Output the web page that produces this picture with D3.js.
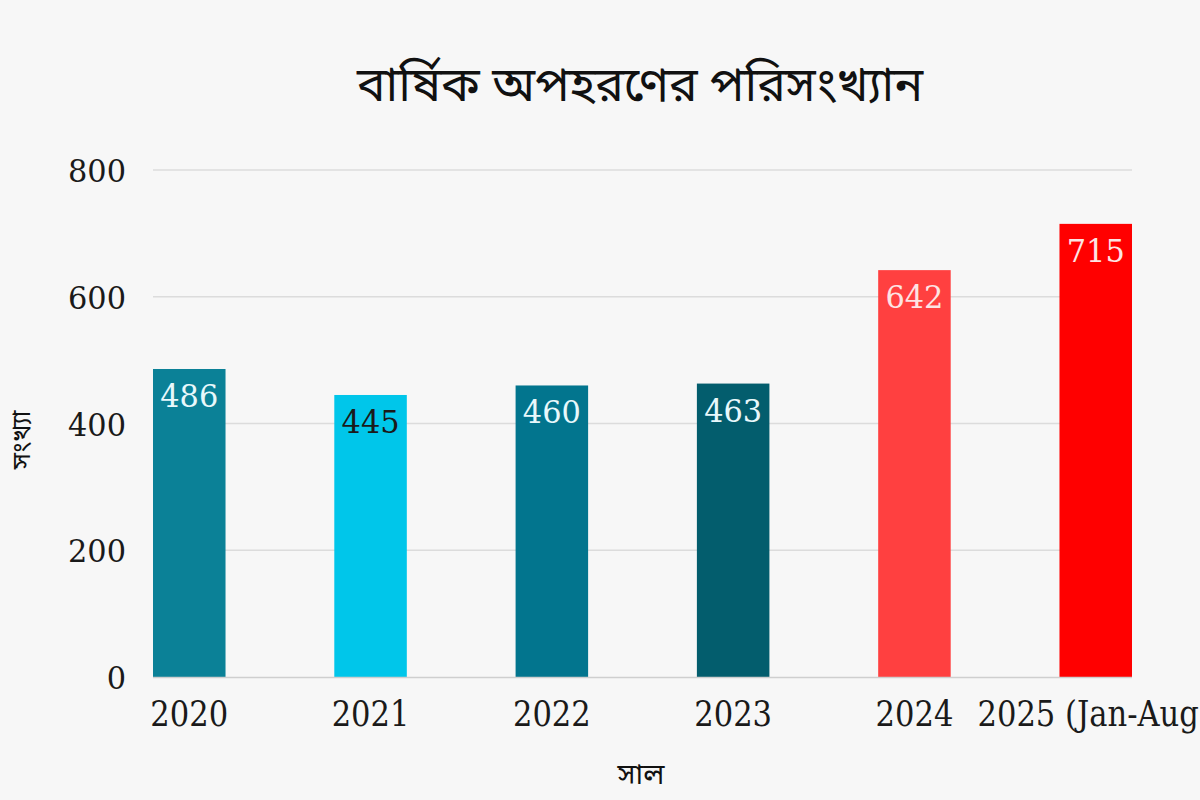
<!DOCTYPE html>
<html><head><meta charset="utf-8">
<script src="https://cdn.jsdelivr.net/npm/d3@7"></script>
<style>
html,body{margin:0;padding:0;background:#f7f7f7;}
svg{display:block;}
</style></head>
<body>
<svg id="chart" width="1200" height="800"></svg>
<script>
const categories = ["2020","2021","2022","2023","2024","2025 (Jan-Aug)"];
const values = [486, 445, 460, 463, 642, 715];
const barColors = ["#0b8197","#00c6ea","#02758e","#035d6d","#ff4040","#ff0000"];
const labelColors = ["#e8f8fb","#1a1a1a","#e8f8fb","#e8f8fb","#fde3e3","#fde3e3"];
const yTicks = [0, 200, 400, 600, 800];
const titleText = "বার্ষিক অপহরণের পরিসংখ্যান";
const yTitle = "সংখ্যা";
const xTitle = "সাল";

const svg = d3.select("#chart");
const serif = "'DejaVu Serif', 'Noto Serif', serif";
const bengali = "'Noto Sans Bengali','Noto Serif Bengali','Lohit Bengali','Noto Sans', sans-serif";

const x = d3.scaleBand().domain(categories).range([153, 1132]).paddingInner(0.6).paddingOuter(0);
const y = d3.scaleLinear().domain([0, 800]).range([677, 170]);

svg.append("rect").attr("width",1200).attr("height",800).attr("fill","#f7f7f7");

// gridlines
svg.append("g").selectAll("line").data(yTicks.filter(d=>d>0)).join("line")
  .attr("x1",153).attr("x2",1132).attr("y1",d=>y(d)).attr("y2",d=>y(d))
  .attr("stroke","#dcdcdc").attr("stroke-width",1.5);

// y axis labels
const yAxis = d3.axisLeft(y).tickValues(yTicks).tickSize(0).tickPadding(0).tickFormat(d3.format("d"));
const yg = svg.append("g").attr("transform","translate(126,0)").call(yAxis);
yg.select(".domain").remove();
yg.selectAll("text").attr("font-family",serif).attr("font-size",32).attr("fill","#1a1a1a")
  .attr("transform","scale(0.95,1)").attr("dy","0.36em");

// bars
svg.append("g").selectAll("rect").data(values).join("rect")
  .attr("x",(d,i)=>x(categories[i])).attr("width",x.bandwidth())
  .attr("y",d=>y(d)).attr("height",d=>y(0)-y(d))
  .attr("fill",(d,i)=>barColors[i]);

// baseline
svg.append("line").attr("x1",153).attr("x2",1132).attr("y1",y(0)+0.5).attr("y2",y(0)+0.5)
  .attr("stroke","#cfcfcf").attr("stroke-width",1.5);

// value labels
svg.append("g").selectAll("text").data(values).join("text")
  .attr("transform",(d,i)=>`translate(${x(categories[i])+x.bandwidth()/2},${y(d)+38}) scale(0.95,1)`)
  .attr("text-anchor","middle")
  .attr("font-family",serif).attr("font-size",32)
  .attr("fill",(d,i)=>labelColors[i])
  .text(d=>d);

// x axis labels (drawn from band scale positions)
svg.append("g").selectAll("text").data(categories).join("text")
  .attr("transform",(d,i)=>{
    const cx = i === categories.length-1 ? x(d) - 82 : x(d)+x.bandwidth()/2;
    return `translate(${cx},726) scale(0.85,1)`;
  })
  .attr("text-anchor",(d,i)=> i === categories.length-1 ? "start" : "middle")
  .attr("font-family",serif).attr("font-size",36).attr("fill","#1a1a1a")
  .text(d=>d);

// titles
svg.append("text").attr("x",640).attr("y",101).attr("text-anchor","middle")
  .attr("font-family",bengali).attr("font-size",48).attr("fill","#111").text(titleText);
svg.append("text").attr("transform","translate(30,440) rotate(-90)").attr("text-anchor","middle")
  .attr("font-family",bengali).attr("font-size",26).attr("fill","#111").text(yTitle);
svg.append("text").attr("x",641).attr("y",784).attr("text-anchor","middle")
  .attr("font-family",bengali).attr("font-size",29).attr("fill","#111").text(xTitle);
</script>
</body></html>
